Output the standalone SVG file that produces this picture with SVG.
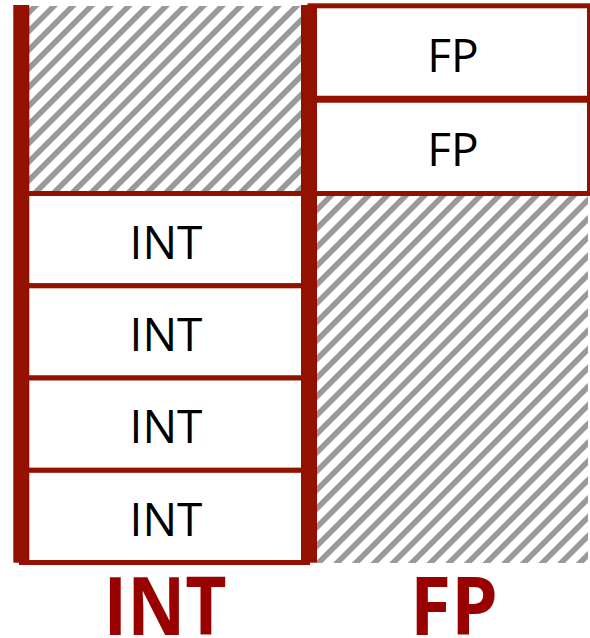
<svg xmlns="http://www.w3.org/2000/svg" width="590" height="638" viewBox="0 0 590 638">
<style>
.cell{fill:#fff;stroke:#941100;stroke-width:5}
.bar{fill:#941100}
.lbl{font-family:"Open Sans","Noto Sans",sans-serif;font-size:46px;fill:#000;text-anchor:middle}
.title{font-family:"Open Sans","Noto Sans",sans-serif;font-size:80px;font-weight:bold;fill:#990000;text-anchor:middle}
</style>
<defs>
<pattern id="hatch" patternUnits="userSpaceOnUse" width="13.2" height="13.2" patternTransform="rotate(45)">
<rect x="0" y="0" width="13.2" height="13.2" fill="#fff"/>
<rect x="0" y="0" width="5.6" height="13.2" fill="#999"/>
</pattern>
</defs>
<rect id="hatch-int" x="29" y="6" width="272" height="186" fill="url(#hatch)"/>
<rect id="hatch-fp" x="317" y="196" width="271" height="367" fill="url(#hatch)"/>
<g id="int1"><rect class="cell" x="21.5" y="193.5" width="286" height="92.3"/><text class="lbl" x="166" y="258.6">INT</text></g>
<g id="int2"><rect class="cell" x="21.5" y="285.8" width="286" height="92.2"/><text class="lbl" x="166" y="351">INT</text></g>
<g id="int3"><rect class="cell" x="21.5" y="378" width="286" height="92.3"/><text class="lbl" x="166" y="443">INT</text></g>
<g id="int4"><rect class="cell" x="21.5" y="470.3" width="286" height="92.2"/><text class="lbl" x="166" y="535.5">INT</text></g>
<g id="fp1"><rect class="cell" x="310" y="5.8" width="279.5" height="93.5"/><text class="lbl" x="453" y="71.7">FP</text></g>
<g id="fp2"><rect class="cell" x="310" y="99.3" width="279.5" height="94.2"/><text class="lbl" x="453" y="165.5">FP</text></g>
<line x1="317" y1="99.3" x2="590" y2="99.3" stroke="#941100" stroke-width="7"/>
<g id="bars">
<rect class="bar" x="13.3" y="5" width="16" height="557.7"/>
<rect class="bar" x="301" y="5" width="16" height="557.7"/>
</g>
<g id="titles">
<text class="title" x="165" y="635" textLength="123" lengthAdjust="spacingAndGlyphs">INT</text>
<text class="title" x="454" y="635" textLength="88" lengthAdjust="spacingAndGlyphs">FP</text>
</g>
</svg>
